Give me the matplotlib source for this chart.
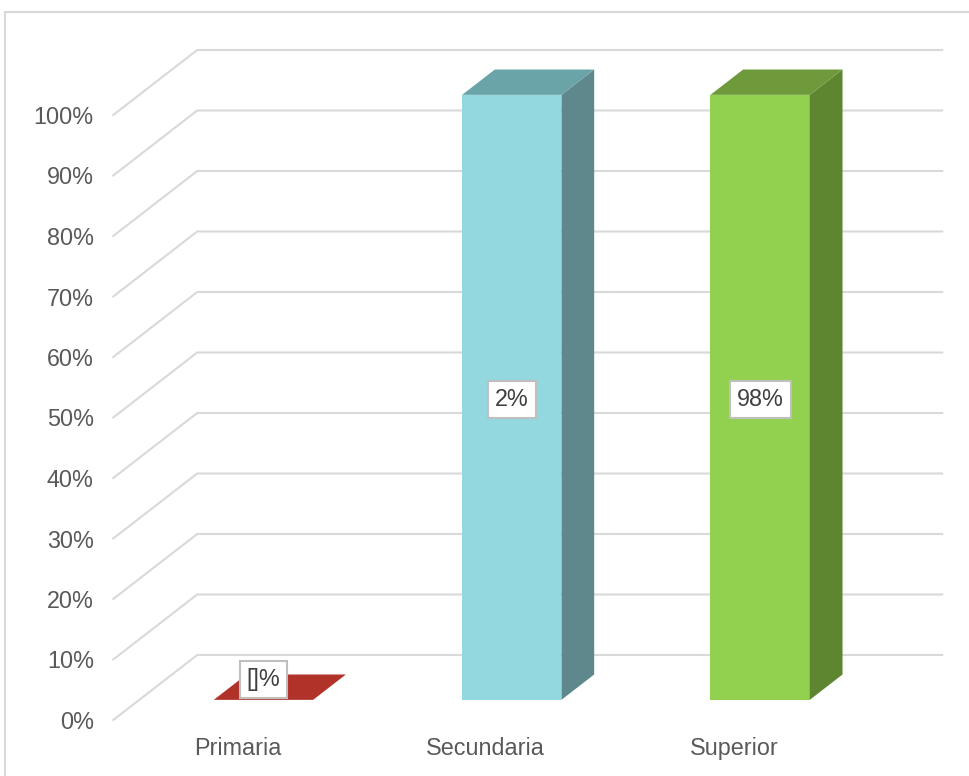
import matplotlib as mp
import matplotlib.pyplot as plot
from matplotlib.patches import Polygon, Rectangle

# data
categories = ["Primaria", "Secundaria", "Superior"]
bar_heights = [0, 100, 100]
bar_labels = ["[]%", "2%", "98%"]
y_ticks = list(range(0, 101, 10))
y_tick_labels = ["%d%%" % v for v in y_ticks]

fronts = ["#B03228", "#93D8DF", "#92D050"]
tops = ["#B03228", "#6BA4A8", "#6E9A3C"]
sides = ["#8E2820", "#5E888C", "#5E8530"]

grid_color = "#D9D9D9"
text_color = "#595959"

mp.rcParams.update({
    "font.family": ["Liberation Sans", "DejaVu Sans"],
    "font.size": 16.8,
})

W, H = 970, 776
fig = plot.figure(figsize=(W / 100, H / 100), dpi=100)
# frame around the chart
fig.patches.append(Rectangle((5 / W, -0.1), 1.1, (H - 12) / H + 0.1,
                             transform=fig.transFigure, fill=False,
                             edgecolor=grid_color, linewidth=1.5))

ax = fig.add_axes([113.25 / W, 56 / H, 745 / W, 605 / H])
ax.set_xlim(-0.5, 2.5)
ax.set_ylim(0, 100)
for s in ax.spines.values():
    s.set_visible(False)

# depth of the 3d box, in data units
DX = 84 / 248.5
DY = 65 / 6.05
f0, f1 = 0.31, 0.70   # bar depth range (fraction of box depth)
bw = 0.4

# gridlines: diagonal on the left side wall + back line
for v in y_ticks:
    ax.plot([-0.5, -0.5 + DX, 2.5 + DX], [v, v + DY, v + DY],
            color=grid_color, linewidth=1.5, clip_on=False, zorder=1)

for i, h in enumerate(bar_heights):
    x0 = i - bw / 2 + f0 * DX
    y0 = f0 * DY
    x1 = x0 + bw
    ddx = (f1 - f0) * DX
    ddy = (f1 - f0) * DY
    if h == 0:
        ax.add_patch(Polygon([(x0, y0), (x1, y0), (x1 + ddx, y0 + ddy), (x0 + ddx, y0 + ddy)],
                             closed=True, facecolor=fronts[i], edgecolor="none",
                             clip_on=False, zorder=3))
    else:
        # front
        ax.add_patch(Polygon([(x0, y0), (x1, y0), (x1, y0 + h), (x0, y0 + h)],
                             closed=True, facecolor=fronts[i], edgecolor="none",
                             clip_on=False, zorder=3))
        # side
        ax.add_patch(Polygon([(x1, y0), (x1 + ddx, y0 + ddy), (x1 + ddx, y0 + ddy + h), (x1, y0 + h)],
                             closed=True, facecolor=sides[i], edgecolor="none",
                             clip_on=False, zorder=3))
        # top
        ax.add_patch(Polygon([(x0, y0 + h), (x1, y0 + h), (x1 + ddx, y0 + ddy + h), (x0 + ddx, y0 + ddy + h)],
                             closed=True, facecolor=tops[i], edgecolor="none",
                             clip_on=False, zorder=3))
    ly = y0 + h / 2 - 0.3 if h > 0 else y0 + 3.3
    ax.text((x0 + x1) / 2, ly, bar_labels[i],
            ha="center", va="center", color="#404040", zorder=5,
            bbox=dict(boxstyle="square,pad=0.3", facecolor="white",
                      edgecolor="#BFBFBF", linewidth=1.5))

ax.set_yticks(y_ticks)
ax.set_yticklabels(y_tick_labels, color=text_color)
ax.set_xticks(range(len(categories)))
ax.set_xticklabels(categories, color=text_color)
ax.tick_params(axis="y", length=0, pad=14)
ax.tick_params(axis="x", length=0, pad=12)

plot.savefig("out.png", dpi=100)
